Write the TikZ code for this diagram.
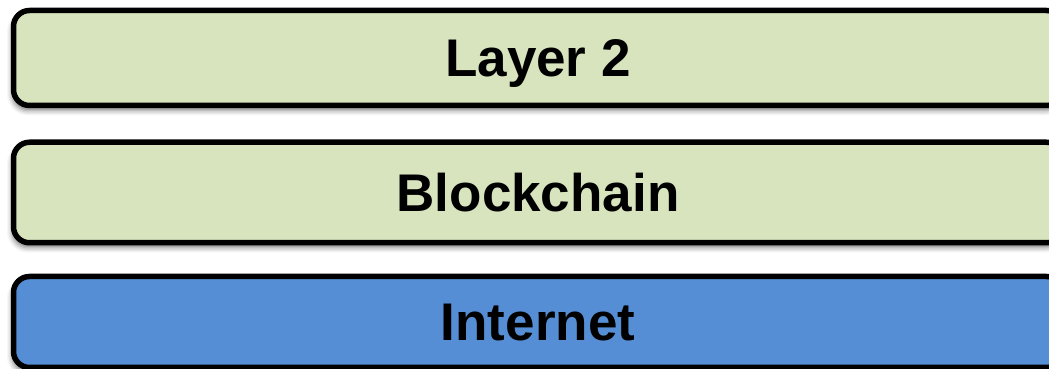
\documentclass[tikz,border=0pt]{standalone}
\usepackage{fontspec}
\setmainfont{Liberation Sans}
\usetikzlibrary{shadows.blur}
\definecolor{layergreen}{HTML}{D7E4BD}
\definecolor{netblue}{HTML}{558ED5}
\begin{document}
\begin{tikzpicture}[x=1pt,y=1pt,
  layerbox/.style={draw=black, line width=5.5pt, rounded corners=16pt,
    minimum width=1049pt, text height=38pt, text depth=0pt,
    font=\fontsize{53}{60}\selectfont\bfseries,
    blur shadow={shadow xshift=-1.5pt, shadow yshift=-5pt,
      shadow blur radius=5pt, shadow opacity=50}}]
  \useasboundingbox (0,0) rectangle (1049,369);
  \clip (0,0) rectangle (1049,369);
  % stacked protocol layers, top to bottom
  \node[layerbox, fill=layergreen, minimum height=95pt]  (layer2) at (538,311) {Layer 2};
  \node[layerbox, fill=layergreen, minimum height=100.5pt] (chain) at (538,176.5) {Blockchain};
  \node[layerbox, fill=netblue, minimum height=91pt]    (net) at (538,47) {Internet};
\end{tikzpicture}
\end{document}
